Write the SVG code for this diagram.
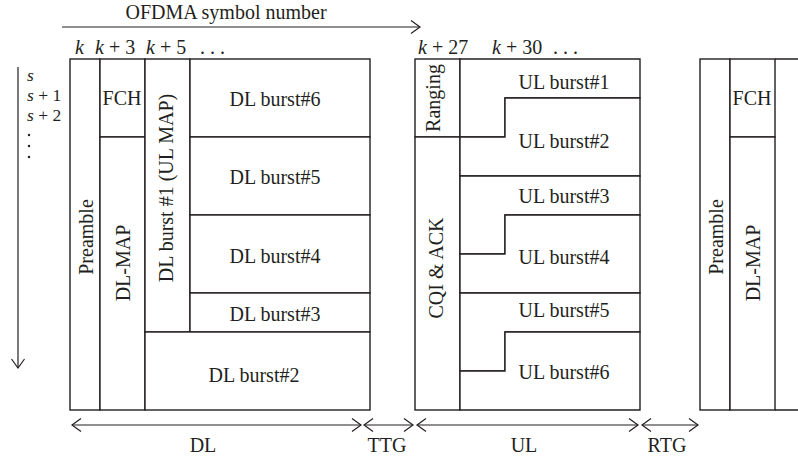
<svg xmlns="http://www.w3.org/2000/svg" width="798" height="459" viewBox="0 0 798 459" font-family="'Liberation Serif', serif" font-size="20">
<defs>
<style>
.c{fill:#fff;stroke:#231f20;stroke-width:1.4}
.l{fill:none;stroke:#231f20;stroke-width:1.4}
.a{fill:none;stroke:#231f20;stroke-width:1.2}
text{font-family:'Liberation Serif',serif;font-size:20px;fill:#231f20}
.m{text-anchor:middle}
.i{font-style:italic}
.s{font-size:17.5px}
</style>
<marker id="ah" viewBox="-11 -8 13 16" markerWidth="13" markerHeight="16" refX="0" refY="0" markerUnits="userSpaceOnUse" orient="auto-start-reverse">
<path d="M-9,-6.5 L0,0 L-9,6.5" fill="none" stroke="#231f20" stroke-width="1.2"/>
</marker>
</defs>
<rect width="798" height="459" fill="#fff"/>

<g id="axis-labels">
<text class="m" x="226" y="19">OFDMA symbol number</text>
<text x="75" y="54" class="i">k</text>
<text x="95" y="54"><tspan class="i">k</tspan> + 3</text>
<text x="146" y="54"><tspan class="i">k</tspan> + 5</text>
<text x="200" y="54">. . .</text>
<text x="418" y="54"><tspan class="i">k</tspan> + 27</text>
<text x="492" y="54"><tspan class="i">k</tspan> + 30</text>
<text x="553" y="54">. . .</text>
<text x="27" y="81" class="s i">s</text>
<text x="27" y="101" class="s"><tspan class="i">s</tspan> + 1</text>
<text x="27" y="121" class="s"><tspan class="i">s</tspan> + 2</text>
<circle cx="29" cy="135" r="1.2" fill="#231f20"/>
<circle cx="29" cy="146" r="1.2" fill="#231f20"/>
<circle cx="29" cy="157" r="1.2" fill="#231f20"/>
<text class="m" x="203" y="452">DL</text>
<text class="m" x="387" y="452">TTG</text>
<text class="m" x="524" y="452">UL</text>
<text class="m" x="667" y="452">RTG</text>
</g>

<g id="dl-preamble"><rect class="c" x="70" y="59" width="30" height="351"/><text class="m" transform="translate(92.5,237) rotate(-90)">Preamble</text></g>
<g id="dl-fch"><rect class="c" x="100" y="59" width="45" height="78"/><text class="m" x="122" y="105">FCH</text></g>
<g id="dl-map"><rect class="c" x="100" y="137" width="45" height="273"/><text class="m" transform="translate(130,263) rotate(-90)">DL-MAP</text></g>
<g id="dl-burst1"><rect class="c" x="145" y="59" width="45" height="273"/><text class="m" transform="translate(173,188) rotate(-90)">DL burst #1 (UL MAP)</text></g>
<g id="dl-burst6"><rect class="c" x="190" y="59" width="180" height="78"/><text class="m" x="275" y="106">DL burst#6</text></g>
<g id="dl-burst5"><rect class="c" x="190" y="137" width="180" height="78"/><text class="m" x="275" y="184">DL burst#5</text></g>
<g id="dl-burst4"><rect class="c" x="190" y="215" width="180" height="78"/><text class="m" x="275" y="263">DL burst#4</text></g>
<g id="dl-burst3"><rect class="c" x="190" y="293" width="180" height="39"/><text class="m" x="275" y="321">DL burst#3</text></g>
<g id="dl-burst2"><rect class="c" x="145" y="332" width="225" height="78"/><text class="m" x="254" y="382">DL burst#2</text></g>

<g id="ul-ranging"><rect class="c" x="415" y="59" width="45" height="78"/><text class="m" transform="translate(440,98) rotate(-90)">Ranging</text></g>
<g id="ul-cqi"><rect class="c" x="415" y="137" width="45" height="273"/><text class="m" transform="translate(443,268) rotate(-90)">CQI &amp; ACK</text></g>
<g id="ul-burst1"><polygon class="c" points="460,59 640,59 640,98 505,98 505,137 460,137"/><text class="m" x="564" y="89">UL burst#1</text></g>
<g id="ul-burst2"><polygon class="c" points="460,137 505,137 505,98 640,98 640,176 460,176"/><text class="m" x="564" y="148">UL burst#2</text></g>
<g id="ul-burst3"><polygon class="c" points="460,176 640,176 640,215 505,215 505,254 460,254"/><text class="m" x="564" y="203">UL burst#3</text></g>
<g id="ul-burst4"><polygon class="c" points="460,254 505,254 505,215 640,215 640,293 460,293"/><text class="m" x="564" y="264">UL burst#4</text></g>
<g id="ul-burst5"><polygon class="c" points="460,293 640,293 640,332 505,332 505,371 460,371"/><text class="m" x="564" y="317">UL burst#5</text></g>
<g id="ul-burst6"><polygon class="c" points="460,371 505,371 505,332 640,332 640,410 460,410"/><text class="m" x="564" y="379">UL burst#6</text></g>

<g id="next-preamble"><rect class="c" x="700" y="59" width="30" height="351"/><text class="m" transform="translate(722.5,237) rotate(-90)">Preamble</text></g>
<g id="next-fch"><rect class="c" x="730" y="59" width="45" height="78"/><text class="m" x="752" y="105">FCH</text></g>
<g id="next-map"><rect class="c" x="730" y="137" width="45" height="273"/><text class="m" transform="translate(760,263) rotate(-90)">DL-MAP</text></g>
<g id="next-rest"><path class="l" d="M775,59 H800 M775,410 H800"/></g>

<g id="connectors">
<line class="a" x1="62" y1="27" x2="420" y2="27" marker-end="url(#ah)"/>
<line class="a" x1="18" y1="67" x2="18" y2="368" marker-end="url(#ah)"/>
<line class="a" x1="72" y1="425" x2="361" y2="425" marker-start="url(#ah)" marker-end="url(#ah)"/>
<line class="a" x1="364" y1="425" x2="413" y2="425" marker-start="url(#ah)" marker-end="url(#ah)"/>
<line class="a" x1="417" y1="425" x2="638" y2="425" marker-start="url(#ah)" marker-end="url(#ah)"/>
<line class="a" x1="642" y1="425" x2="698" y2="425" marker-start="url(#ah)" marker-end="url(#ah)"/>
</g>
</svg>
